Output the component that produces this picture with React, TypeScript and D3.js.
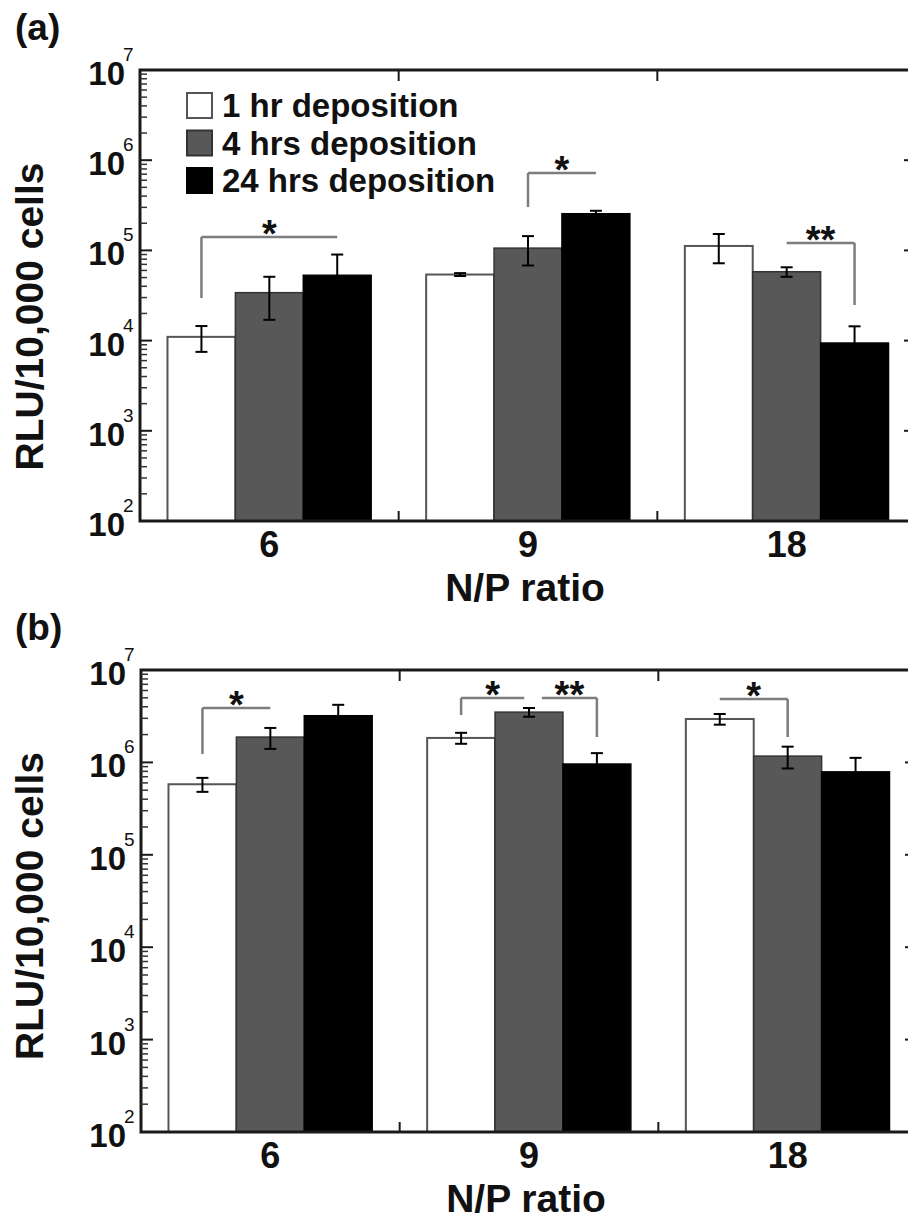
import React from "react";
import * as d3 from "d3";

const groups = ["6", "9", "18"];
const series = ["1 hr deposition", "4 hrs deposition", "24 hrs deposition"];
const fills = ["#ffffff", "#585858", "#000000"];
const strokes = ["#555555", "#333333", "#000000"];
const decades = [1e2, 1e3, 1e4, 1e5, 1e6, 1e7];
const exponents = ["2", "3", "4", "5", "6", "7"];

// panel (a): means and sd per group (rows) and series (cols)
const meansA = [
  [1.1e4, 3.4e4, 5.3e4],
  [5.4e4, 1.06e5, 2.55e5],
  [1.12e5, 5.8e4, 9.4e3],
];
const errsA = [
  [3.5e3, 1.7e4, 3.7e4],
  [2e3, 3.8e4, 2e4],
  [4e4, 7e3, 5e3],
];

// panel (b)
const meansB = [
  [5.8e5, 1.88e6, 3.2e6],
  [1.84e6, 3.5e6, 9.6e5],
  [2.95e6, 1.17e6, 7.9e5],
];
const errsB = [
  [1e5, 4.8e5, 1e6],
  [2.5e5, 3.8e5, 3e5],
  [3.9e5, 3.1e5, 3.3e5],
];

// significance brackets
const bracketsA = [
  { g: 0, from: 0, to: 2, y: 1.41e5, end: 2.97e4, leg: "left", stars: "*" },
  { g: 1, from: 1, to: 2, y: 7.2e5, end: 3.03e5, leg: "left", stars: "*" },
  { g: 2, from: 1, to: 2, y: 1.21e5, end: 2.48e4, leg: "right", stars: "**" },
];
const bracketsB = [
  { g: 0, from: 0, to: 1, y: 3.88e6, end: 1.23e6, leg: "left", stars: "*" },
  { g: 1, from: 0, to: 1, y: 4.98e6, end: 3.26e6, leg: "left", stars: "*", trimEnd: 0.07 },
  { g: 1, from: 1, to: 2, y: 4.98e6, end: 1.88e6, leg: "right", stars: "**", trimStart: 0.19 },
  { g: 2, from: 0, to: 1, y: 4.85e6, end: 1.88e6, leg: "right", stars: "*" },
];

const FONT = "'Liberation Sans', Arial, Helvetica, sans-serif";
const INK = "#111";

function Panel({ label, box, means, errs, brackets, legend, titleShift }) {
  const x = d3.scaleBand().domain(groups).range([box.left, box.right]);
  const xs = d3
    .scaleBand()
    .domain(series)
    .range([0, x.bandwidth()])
    .paddingInner(0)
    .paddingOuter(0.405);
  const y = d3.scaleLog().domain([1e2, 1e7]).range([box.bottom, box.top]);
  const bw = xs.bandwidth();

  const minor = [];
  decades.slice(0, -1).forEach((d) => {
    for (let k = 2; k <= 9; k++) minor.push(k * d);
  });

  const center = (g, s) => x(groups[g]) + xs(series[s]) + bw / 2;
  const boundaries = groups.slice(0, -1).map((g) => x(g) + x.bandwidth());
  const midX = (box.left + box.right) / 2;

  return (
    <g>
      <text x={15} y={box.top - 30} fontFamily={FONT} fontWeight="bold" fontSize={37} fill={INK}>
        {label}
      </text>

      {/* bars */}
      {groups.map((g, gi) =>
        series.map((s, si) => (
          <rect
            key={g + s}
            x={x(g) + xs(s)}
            y={y(means[gi][si])}
            width={bw}
            height={box.bottom - y(means[gi][si])}
            fill={fills[si]}
            stroke={strokes[si]}
            strokeWidth={si === 0 ? 2 : 1.5}
          />
        ))
      )}

      {/* error bars */}
      {groups.map((g, gi) =>
        series.map((s, si) => {
          const cx = center(gi, si);
          const hi = y(means[gi][si] + errs[gi][si]);
          const lo = y(Math.max(means[gi][si] - errs[gi][si], 1e2));
          return (
            <g key={"e" + g + s} stroke="#000" strokeWidth={2}>
              <line x1={cx} x2={cx} y1={hi} y2={lo} />
              <line x1={cx - 6} x2={cx + 6} y1={hi} y2={hi} />
              <line x1={cx - 6} x2={cx + 6} y1={lo} y2={lo} />
            </g>
          );
        })
      )}

      {/* significance brackets */}
      {brackets.map((b, i) => {
        const x1 = center(b.g, b.from) + (b.trimStart || 0) * bw;
        const x2 = center(b.g, b.to) - (b.trimEnd || 0) * bw;
        const yb = y(b.y);
        const legX = b.leg === "left" ? x1 : x2;
        return (
          <g key={"b" + i}>
            <path
              d={`M${x1},${yb}H${x2}M${legX},${yb}V${y(b.end)}`}
              fill="none"
              stroke="#7d7d7d"
              strokeWidth={2.5}
            />
            <text
              x={(x1 + x2) / 2}
              y={yb + 10}
              textAnchor="middle"
              fontFamily={FONT}
              fontWeight="bold"
              fontSize={38}
              fill={INK}
            >
              {b.stars}
            </text>
          </g>
        );
      })}

      {/* frame */}
      <rect
        x={box.left}
        y={box.top}
        width={box.right - box.left}
        height={box.bottom - box.top}
        fill="none"
        stroke="#1a1a1a"
        strokeWidth={3}
      />

      {/* y ticks, both sides, inward */}
      {decades.map((d) => (
        <g key={"M" + d} stroke="#1a1a1a" strokeWidth={2}>
          <line x1={box.left} x2={box.left + 12} y1={y(d)} y2={y(d)} />
          <line x1={box.right} x2={box.right - 12} y1={y(d)} y2={y(d)} />
        </g>
      ))}
      {minor.map((d) => (
        <g key={"m" + d} stroke="#333" strokeWidth={1.5}>
          <line x1={box.left} x2={box.left + 7} y1={y(d)} y2={y(d)} />
          <line x1={box.right} x2={box.right - 7} y1={y(d)} y2={y(d)} />
        </g>
      ))}
      {decades.map((d, i) => (
        <g key={"l" + d} fill={INK} fontFamily={FONT}>
          <text x={box.left - 15} y={y(d) + 15} textAnchor="end" fontWeight="bold" fontSize={33}>
            10
          </text>
          <text x={box.left - 17} y={y(d) - 9} fontSize={19}>
            {exponents[i]}
          </text>
        </g>
      ))}

      {/* x ticks at group boundaries */}
      {boundaries.map((bx) => (
        <g key={"t" + bx} stroke="#1a1a1a" strokeWidth={2}>
          <line x1={bx} x2={bx} y1={box.top} y2={box.top + 11} />
          <line x1={bx} x2={bx} y1={box.bottom} y2={box.bottom - 10} />
        </g>
      ))}
      {groups.map((g) => (
        <text
          key={"xl" + g}
          x={x(g) + x.bandwidth() / 2}
          y={box.bottom + 36}
          textAnchor="middle"
          fontFamily={FONT}
          fontWeight="bold"
          fontSize={36}
          fill={INK}
        >
          {g}
        </text>
      ))}
      <text
        x={midX - 3}
        y={box.bottom + 80}
        textAnchor="middle"
        fontFamily={FONT}
        fontWeight="bold"
        fontSize={39}
        fill={INK}
      >
        N/P ratio
      </text>
      <text
        transform={`translate(43, ${(box.top + box.bottom) / 2 + titleShift}) rotate(-90)`}
        textAnchor="middle"
        fontFamily={FONT}
        fontWeight="bold"
        fontSize={39}
        fill={INK}
      >
        RLU/10,000 cells
      </text>

      {legend &&
        series.map((s, i) => {
          const top = box.top + 23 + i * 37.5;
          return (
            <g key={"lg" + s}>
              <rect
                x={box.left + 47}
                y={top}
                width={25}
                height={25}
                fill={fills[i]}
                stroke={i === 0 ? "#555" : strokes[i]}
                strokeWidth={2}
              />
              <text
                x={box.left + 82}
                y={top + 24}
                fontFamily={FONT}
                fontWeight="bold"
                fontSize={33}
                fill={INK}
              >
                {s}
              </text>
            </g>
          );
        })}
    </g>
  );
}

export default function App() {
  return (
    <svg
      width={908}
      height={1219}
      viewBox="0 0 908 1219"
      style={{ position: "absolute", left: 0, top: 0, display: "block", background: "#fff" }}
    >
      <rect width={908} height={1219} fill="#fff" />
      <Panel
        label="(a)"
        box={{ left: 140, right: 916, top: 70, bottom: 521 }}
        means={meansA}
        errs={errsA}
        brackets={bracketsA}
        legend={true}
        titleShift={21}
      />
      <Panel
        label="(b)"
        box={{ left: 141, right: 917, top: 670, bottom: 1132 }}
        means={meansB}
        errs={errsB}
        brackets={bracketsB}
        legend={false}
        titleShift={5}
      />
    </svg>
  );
}
